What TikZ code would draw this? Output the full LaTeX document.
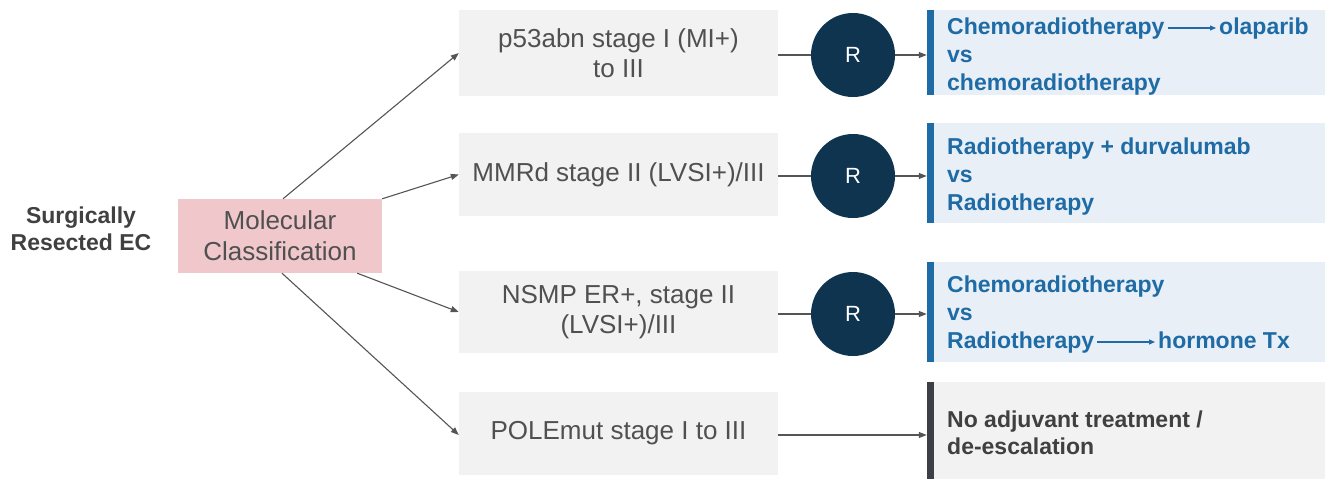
\documentclass[tikz,border=0pt]{standalone}
\usepackage{fontspec}
\setmainfont{Liberation Sans}
\usetikzlibrary{arrows.meta}

\definecolor{pinkfill}{RGB}{240,200,203}
\definecolor{stagefill}{RGB}{242,242,242}
\definecolor{armfill}{RGB}{232,239,247}
\definecolor{armblue}{RGB}{30,107,165}
\definecolor{navy}{RGB}{14,52,80}
\definecolor{darkbar}{RGB}{62,62,70}
\definecolor{stagetext}{RGB}{80,80,80}
\definecolor{headtext}{RGB}{64,64,64}
\definecolor{linegrey}{RGB}{85,85,85}

\tikzset{
  stagebox/.style={fill=stagefill, draw=none, minimum width=319pt, inner sep=0pt,
    align=center, text=stagetext, font=\fontsize{26}{30}\selectfont},
  classbox/.style={fill=pinkfill, draw=none, minimum width=204pt, minimum height=74pt,
    inner sep=0pt, align=center, text=stagetext, font=\fontsize{26}{31}\selectfont},
  randnode/.style={circle, fill=navy, draw=none, minimum size=84pt, inner sep=0pt,
    text=white, font=\fontsize{22}{26}\selectfont},
  armbox/.style={fill=armfill, draw=none, minimum width=398pt, inner sep=0pt},
  plainbox/.style={fill=stagefill, draw=none, minimum width=398pt, inner sep=0pt},
  armtext/.style={anchor=base west, inner sep=0pt, text=armblue,
    font=\bfseries\fontsize{23}{28}\selectfont},
  plaintext/.style={anchor=base west, inner sep=0pt, text=headtext,
    font=\bfseries\fontsize{23}{28}\selectfont},
  conn/.style={draw=linegrey, line width=1.1pt},
  connarrow/.style={conn, -{Triangle[length=8pt,width=6pt]}},
  thenarrow/.style={draw=armblue, line width=1.2pt, -{Triangle[length=6pt,width=5pt]}},
}

\begin{document}
\begin{tikzpicture}[x=1pt,y=-1pt]
\useasboundingbox (0,0) rectangle (1325,479);

% starting population and classification
\node[align=center, text=headtext, font=\bfseries\fontsize{23}{27}\selectfont] (pop) at (81,229)
  {Surgically\\Resected EC};
\node[classbox] (mol) at (280,236) {Molecular\\Classification};

% molecular subgroups
\node[stagebox, minimum height=86pt] (g1) at (618.5,53) {p53abn stage I (MI+)\\to III};
\node[stagebox, minimum height=83pt] (g2) at (618.5,174.5) {MMRd stage II (LVSI+)/III};
\node[stagebox, minimum height=82pt] (g3) at (618.5,312) {NSMP ER+, stage II\\(LVSI+)/III};
\node[stagebox, minimum height=83pt] (g4) at (618.5,433) {POLEmut stage I to III};

% randomisation
\node[randnode] (c1) at (853,55) {R};
\node[randnode] (c2) at (853,176) {R};
\node[randnode] (c3) at (853,314) {R};

% treatment arms
\node[armbox, minimum height=85pt] (r1) at (1126,52.5) {};
\node[armbox, minimum height=100pt] (r2) at (1126,173) {};
\node[armbox, minimum height=100pt] (r3) at (1126,312) {};
\node[plainbox, minimum height=97pt] (r4) at (1126,430.5) {};
\foreach \r in {r1,r2,r3}
  \draw[armblue, line width=7pt] ([xshift=3.5pt]\r.north west) -- ([xshift=3.5pt]\r.south west);
\draw[darkbar, line width=7pt] ([xshift=3.5pt]r4.north west) -- ([xshift=3.5pt]r4.south west);

% arm 1
\node[armtext] (a1) at (947,34) {Chemoradiotherapy};
\node[armtext] (a1b) at (1219,34) {olaparib};
\node[armtext] (a1v) at (947,62) {vs};
\node[armtext] (a1c) at (947,90) {chemoradiotherapy};
\draw[thenarrow] ([xshift=3pt,yshift=6pt]a1.base east) -- ([xshift=-3pt,yshift=6pt]a1b.base west);

% arm 2
\node[armtext] (a2) at (947,154) {Radiotherapy + durvalumab};
\node[armtext] (a2v) at (947,182) {vs};
\node[armtext] (a2c) at (947,210) {Radiotherapy};

% arm 3
\node[armtext] (a3) at (947,292) {Chemoradiotherapy};
\node[armtext] (a3v) at (947,320) {vs};
\node[armtext] (a3c) at (947,348) {Radiotherapy};
\node[armtext] (a3b) at (1158,348) {hormone Tx};
\draw[thenarrow] ([xshift=3pt,yshift=6pt]a3c.base east) -- ([xshift=-3pt,yshift=6pt]a3b.base west);

% arm 4
\node[plaintext] (a4) at (947,427) {No adjuvant treatment /};
\node[plaintext] (a4c) at (947,454) {de-escalation};

% connectors from the classification
\draw[connarrow] ([xshift=3pt]mol.north) -- (g1.west);
\draw[connarrow] (mol.north east) -- (g2.west);
\draw[connarrow] ([xshift=-25pt]mol.south east) -- (g3.west);
\draw[connarrow] ([xshift=2pt]mol.south) -- ([yshift=-2pt]g4.west);

% subgroups to randomisation and arms
\draw[conn] (g1.east |- c1.west) -- (c1.west);
\draw[conn] (g2.east |- c2.west) -- (c2.west);
\draw[conn] (g3.east |- c3.west) -- (c3.west);
\draw[connarrow] (c1.east) -- (c1.east -| r1.west);
\draw[connarrow] (c2.east) -- (c2.east -| r2.west);
\draw[connarrow] (c3.east) -- (c3.east -| r3.west);
\draw[connarrow] ([yshift=-2pt]g4.east) -- ([yshift=-2pt]g4.east -| r4.west);
\end{tikzpicture}
\end{document}
